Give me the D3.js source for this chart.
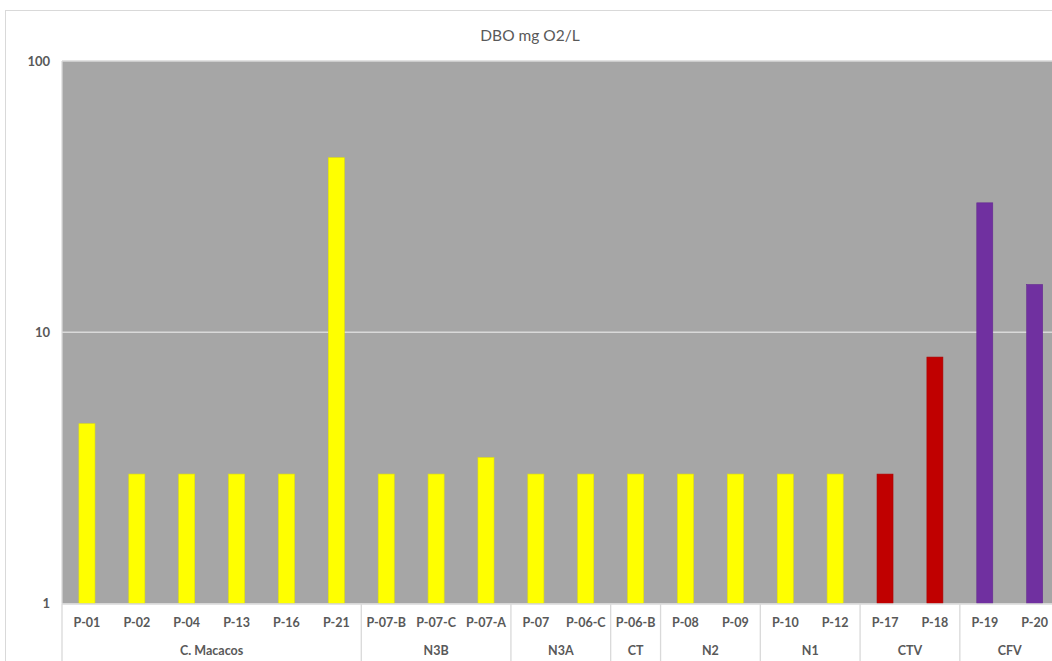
<!DOCTYPE html>
<html>
<head>
<meta charset="utf-8">
<script src="https://cdn.jsdelivr.net/npm/d3@7"></script>
<style>
  html, body { margin: 0; padding: 0; background: #fff; }
  svg { display: block; }
  text { font-family: Lato, "Open Sans", sans-serif; fill: #595959; }
</style>
</head>
<body>
<svg id="chart" width="1052" height="661"></svg>
<script>
const title = "DBO mg O2/L";
const categories = ["P-01","P-02","P-04","P-13","P-16","P-21","P-07-B","P-07-C","P-07-A","P-07","P-06-C","P-06-B","P-08","P-09","P-10","P-12","P-17","P-18","P-19","P-20"];
const values = [4.6, 3, 3, 3, 3, 44, 3, 3, 3.45, 3, 3, 3, 3, 3, 3, 3, 3, 8.1, 30, 15];
const groups = ["C. Macacos","N3B","N3A","CT","N2","N1","CTV","CFV"];
const groupSizes = [6, 3, 2, 1, 2, 2, 2, 2];
const groupColors = ["#ffff00","#ffff00","#ffff00","#ffff00","#ffff00","#ffff00","#c00000","#7030a0"];
const yTicks = [1, 10, 100];

(function () {
const svg = d3.select("#chart");
const pLeft = 62, pTop = 61, pBottom = 603.5;
const band = 49.88;
const pRight = pLeft + band * categories.length;

const catGroup = [];
groupSizes.forEach((n, gi) => { for (let i = 0; i < n; i++) catGroup.push(gi); });

// chart frame
svg.append("rect").attr("x", 5.5).attr("y", 10.5).attr("width", 1200).attr("height", 800)
  .attr("fill", "#fff").attr("stroke", "#d9d9d9").attr("stroke-width", 1);

const x = d3.scaleBand().domain(categories).range([pLeft, pRight]).paddingInner(0).paddingOuter(0);
const y = d3.scaleLog().domain([1, 100]).range([pBottom, pTop]);

// plot area
svg.append("rect").attr("x", pLeft).attr("y", pTop).attr("width", pRight - pLeft).attr("height", pBottom - pTop)
  .attr("fill", "#a6a6a6");

// gridlines
svg.append("g").selectAll("line").data(yTicks.filter(d => d > 1)).join("line")
  .attr("x1", pLeft).attr("x2", pRight)
  .attr("y1", d => y(d)).attr("y2", d => y(d))
  .attr("stroke", "#d9d9d9").attr("stroke-width", 1.3);

// left axis line
svg.append("line").attr("x1", pLeft).attr("x2", pLeft).attr("y1", pTop).attr("y2", pBottom)
  .attr("stroke", "#d9d9d9").attr("stroke-width", 1.3);

// bars
const barW = 16;
svg.append("g").selectAll("rect").data(categories).join("rect")
  .attr("x", d => x(d) + x.bandwidth() / 2 - barW / 2)
  .attr("width", barW)
  .attr("y", (d, i) => y(values[i]))
  .attr("height", (d, i) => pBottom - y(values[i]))
  .attr("fill", (d, i) => groupColors[catGroup[i]])
  .attr("stroke", (d, i) => d3.color(groupColors[catGroup[i]]).darker(0.3))
  .attr("stroke-width", 0.6);

// y axis labels
svg.append("g").selectAll("text").data(yTicks).join("text")
  .attr("x", 50).attr("y", d => y(d))
  .attr("dy", "0.35em").attr("text-anchor", "end")
  .attr("font-size", 13).attr("font-weight", "bold")
  .text(d => d);

// bottom category axis line
svg.append("line").attr("x1", pLeft).attr("x2", pRight).attr("y1", pBottom + 0.5).attr("y2", pBottom + 0.5)
  .attr("stroke", "#d9d9d9").attr("stroke-width", 1.3);

// category labels
svg.append("g").selectAll("text").data(categories).join("text")
  .attr("x", d => x(d) + x.bandwidth() / 2)
  .attr("y", 623).attr("dy", "0.35em").attr("text-anchor", "middle")
  .attr("font-size", 12.5).attr("font-weight", "bold")
  .text(d => d);

// group separators and labels
let start = 0;
const seps = [0];
groupSizes.forEach(n => { start += n; seps.push(start); });
svg.append("g").selectAll("line").data(seps).join("line")
  .attr("x1", i => pLeft + i * band).attr("x2", i => pLeft + i * band)
  .attr("y1", pBottom).attr("y2", 661)
  .attr("stroke", "#d9d9d9").attr("stroke-width", 1.3);

svg.append("g").selectAll("text").data(groups).join("text")
  .attr("x", (g, gi) => pLeft + (seps[gi] + seps[gi + 1]) / 2 * band)
  .attr("y", 651).attr("dy", "0.35em").attr("text-anchor", "middle")
  .attr("font-size", 12.5).attr("font-weight", "bold")
  .text(d => d);

// title
svg.append("text").attr("x", 530).attr("y", 36).attr("dy", "0.35em")
  .attr("text-anchor", "middle").attr("font-size", 15.5)
  .text(title);
})();
</script>
</body>
</html>
